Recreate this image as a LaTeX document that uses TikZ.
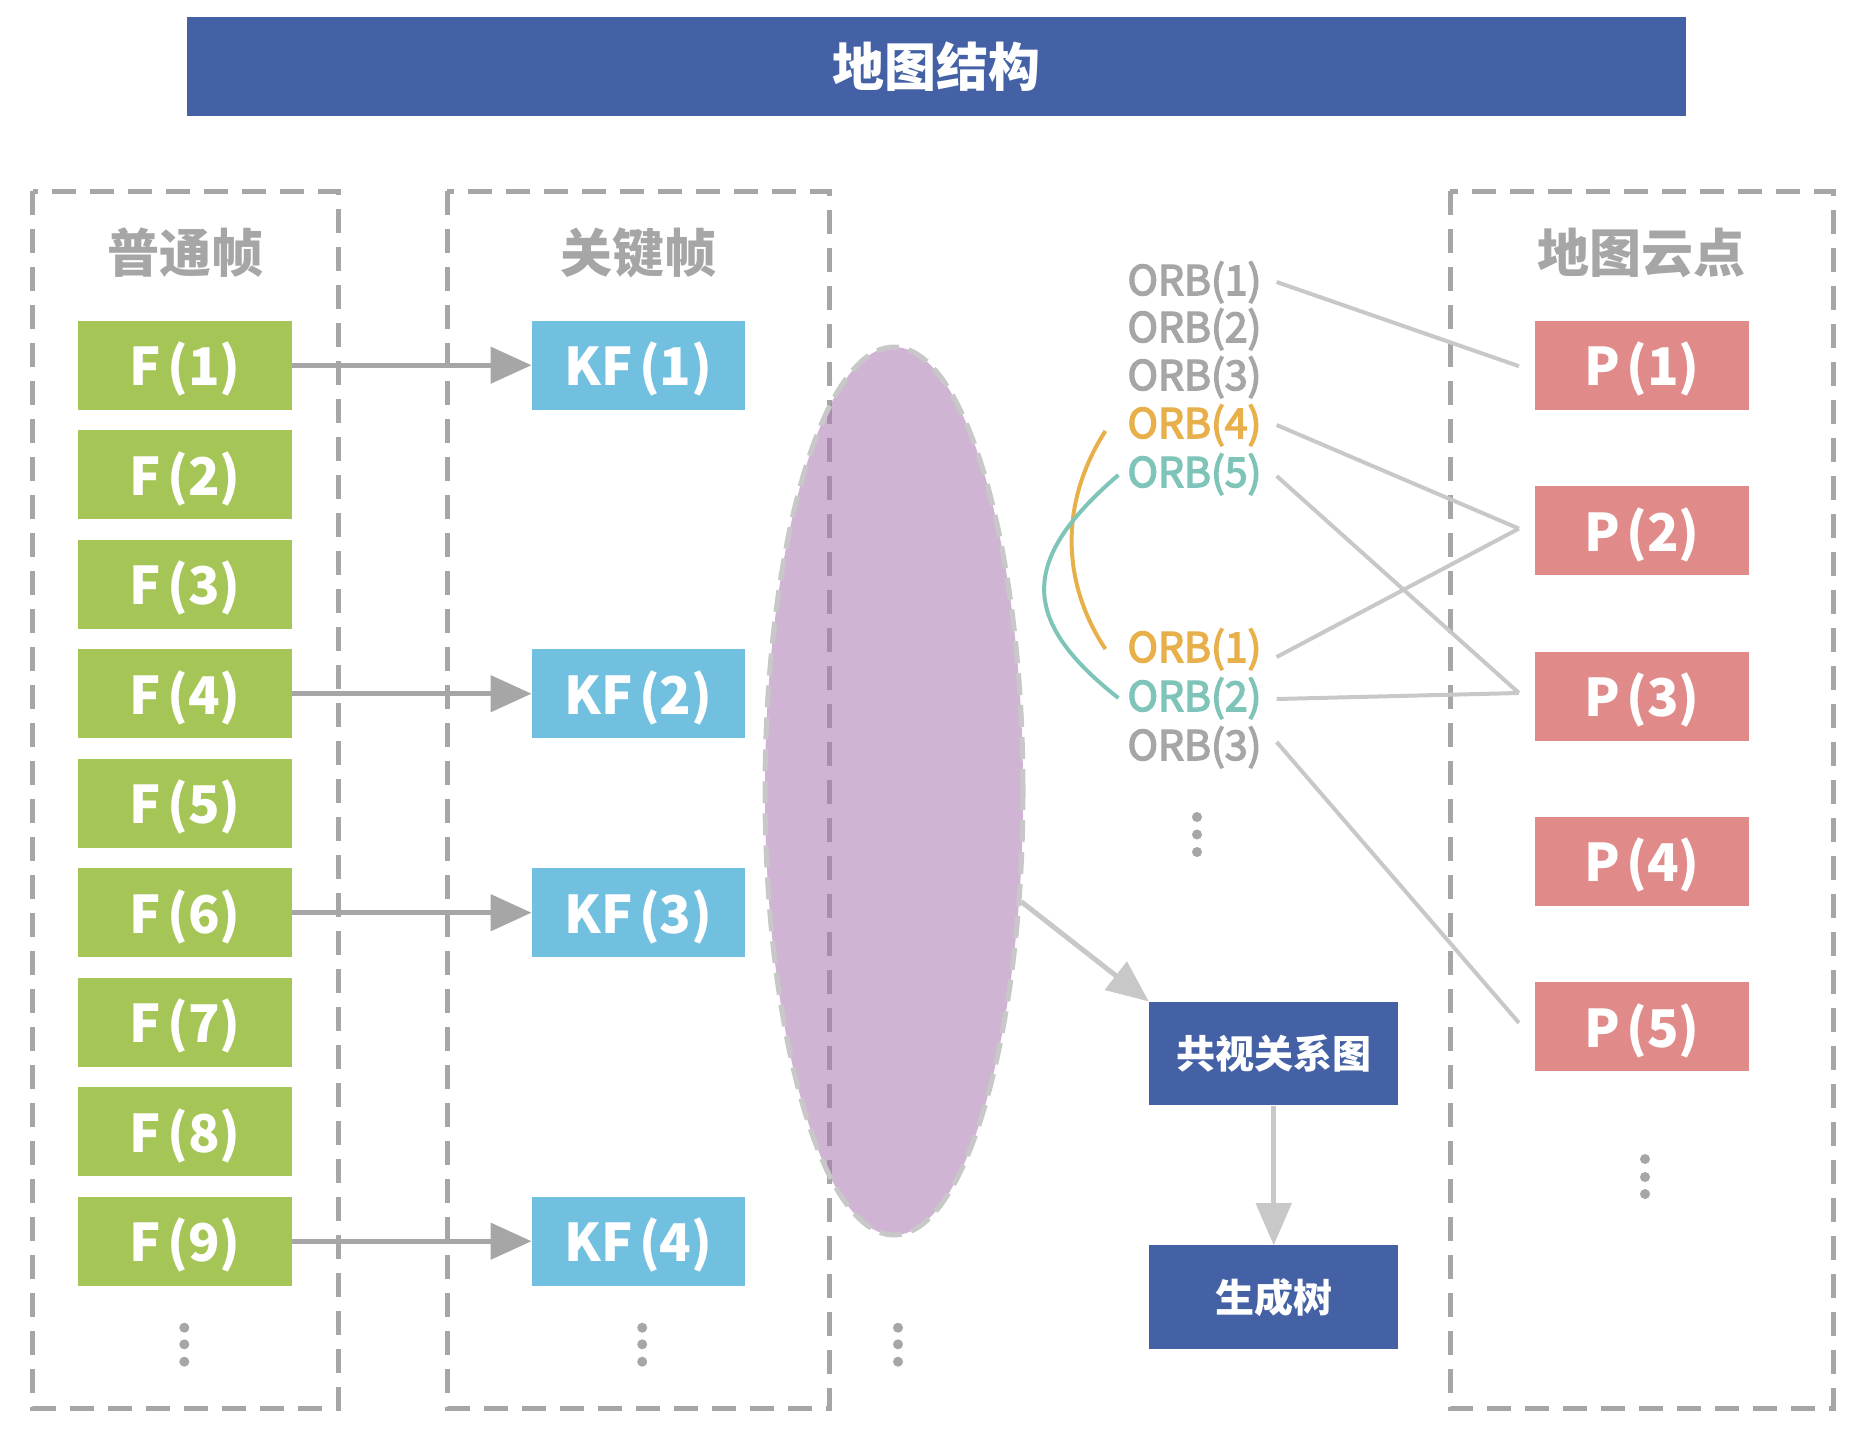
\documentclass[tikz,border=0pt]{standalone}
\usepackage{fontspec}
\setmainfont{Noto Sans CJK SC}
\newfontfamily\orbfont{Noto Sans CJK SC}[FakeBold=3.5]
\usetikzlibrary{arrows.meta,shapes.geometric,calc}
\definecolor{tblue}{HTML}{4461A5}
\definecolor{fgreen}{HTML}{A5C556}
\definecolor{kfblue}{HTML}{72C0E0}
\definecolor{ppink}{HTML}{E08A8A}
\definecolor{dgray}{HTML}{A6A6A6}
\definecolor{lgray}{HTML}{C8C8C8}
\definecolor{orbor}{HTML}{E8B04B}
\definecolor{orbte}{HTML}{7FC4B8}
\definecolor{ellfill}{RGB}{170,123,177}
% place text so that the middle of its capitals sits at the node centre (+ offset)
\newcommand\capc[2][0pt]{\raisebox{\dimexpr-\fontcharht\font`\F/2-#1\relax}[0pt][0pt]{#2}}
\begin{document}
\begin{tikzpicture}[x=1pt,y=-1pt,
  cell/.style={minimum width=213.6pt, minimum height=89pt, inner sep=0pt, text=white,
    font=\fontsize{52}{52}\selectfont\bfseries},
  fcell/.style={cell, fill=fgreen},
  kfcell/.style={cell, fill=kfblue},
  pcell/.style={cell, fill=ppink},
  bluebox/.style={fill=tblue, minimum width=249.3pt, minimum height=103.6pt, inner sep=0pt,
    text=white, font=\fontsize{39}{39}\selectfont\bfseries},
  hdr/.style={text=dgray, inner sep=0pt, font=\fontsize{52}{52}\selectfont\bfseries},
  orb/.style={inner sep=0pt, font=\fontsize{41}{41}\orbfont},
  colbox/.style={draw=dgray, line width=5pt, dash pattern=on 24pt off 14pt},
  darrow/.style={draw=dgray, line width=5pt, -{Triangle[length=41pt,width=36pt]}},
  larrow/.style={draw=lgray, line width=5pt, -{Triangle[length=42pt,width=35pt]}},
  link/.style={draw=lgray, line width=4pt},
  arcline/.style={line width=4pt}
]
\useasboundingbox (0,0) rectangle (1862,1436);

% title
\node[fill=tblue, minimum width=1499pt, minimum height=99pt, inner sep=0pt, text=white,
  font=\fontsize{52}{52}\selectfont\bfseries] (title) at (936.5,66.3) {地图结构};

% column frames
\draw[colbox] (32.5,191) rectangle (338,1408);
\draw[colbox] (447,191) rectangle (829.5,1408);
\draw[colbox] (1450.3,191) rectangle (1833,1408);

% headers
\node[hdr] (h1) at (185.9,253) {普通帧};
\node[hdr] (h2) at (638,253) {关键帧};
\node[hdr] (h3) at (1641,253) {地图云点};

% frames
\foreach \i in {1,...,9} {
  \node[fcell] (f\i) at (185.2,{365.2+109.5*(\i-1)}) {\capc[1.5pt]{F\kern0.12em(\i)}};
}
\node[kfcell] (kf1) at (638.5,365.2) {\capc[1.5pt]{KF\kern0.12em(1)}};
\node[kfcell] (kf2) at (638.5,693.7) {\capc[1.5pt]{KF\kern0.12em(2)}};
\node[kfcell] (kf3) at (638.5,912.7) {\capc[1.5pt]{KF\kern0.12em(3)}};
\node[kfcell] (kf4) at (638.5,1241.2) {\capc[1.5pt]{KF\kern0.12em(4)}};

\draw[darrow] (f1.east) -- (kf1.west);
\draw[darrow] (f4.east) -- (kf2.west);
\draw[darrow] (f6.east) -- (kf3.west);
\draw[darrow] (f9.east) -- (kf4.west);

% ellipse
\node[ellipse, minimum width=258pt, minimum height=888pt, inner sep=0pt,
  fill=ellfill, fill opacity=0.56, draw=lgray, draw opacity=1, line width=5pt,
  dash pattern=on 22pt off 10pt] (ell) at (894,791) {};

% map points
\foreach \i in {1,...,5} {
  \node[pcell] (p\i) at (1641.9,{365.2+165.4*(\i-1)}) {\capc[1.5pt]{P\kern0.12em(\i)}};
}

% ORB labels
\node[orb, text=dgray] (u1) at (1194.5,280) {\capc{ORB(1)}};
\node[orb, text=dgray] (u2) at (1194.5,327) {\capc{ORB(2)}};
\node[orb, text=dgray] (u3) at (1194.5,375) {\capc{ORB(3)}};
\node[orb, text=orbor] (u4) at (1194.5,423) {\capc{ORB(4)}};
\node[orb, text=orbte] (u5) at (1194.5,472) {\capc{ORB(5)}};
\node[orb, text=orbor] (l1) at (1194.5,647) {\capc{ORB(1)}};
\node[orb, text=orbte] (l2) at (1194.5,696) {\capc{ORB(2)}};
\node[orb, text=dgray] (l3) at (1194.5,745) {\capc{ORB(3)}};

% arcs
\draw[arcline, orbor] ($(u4.west)+(-22,8)$) .. controls +(-45,70) and +(-45,-68) .. ($(l1.west)+(-22,2)$);
\draw[arcline, orbte] ($(u5.west)+(-9,3)$) .. controls +(-99,85) and +(-99,-78) .. ($(l2.west)+(-9,2)$);

% links ORB -> points
\draw[link] ($(u1.east)+(15,2)$) -- ($(p1.west)+(-16,1)$);
\draw[link] ($(u4.east)+(15,2)$) -- ($(p2.west)+(-16,-2)$);
\draw[link] ($(u5.east)+(15,4)$) -- ($(p3.west)+(-16,-3)$);
\draw[link] ($(l1.east)+(15,10)$) -- ($(p2.west)+(-16,-2)$);
\draw[link] ($(l2.east)+(15,3)$) -- ($(p3.west)+(-16,-3)$);
\draw[link] ($(l3.east)+(15,-3)$) -- ($(p5.west)+(-16,-4)$);

% covisibility
\node[bluebox] (gs) at (1273.7,1053.5) {共视关系图};
\node[bluebox] (st) at (1273.7,1297.2) {生成树};
\draw[larrow] (ell.-41) -- (gs.north west);
\draw[larrow] (gs.south) -- (st.north);

% dots
\foreach \x in {184.3,642.2,898} {
  \foreach \y in {1327.7,1344.3,1361.7} { \fill[dgray] (\x,\y) circle (5pt); }
}
\foreach \y in {817,834.5,852} { \fill[dgray] (1197,\y) circle (5pt); }
\foreach \y in {1159,1177,1194} { \fill[dgray] (1645,\y) circle (5pt); }
\end{tikzpicture}
\end{document}
